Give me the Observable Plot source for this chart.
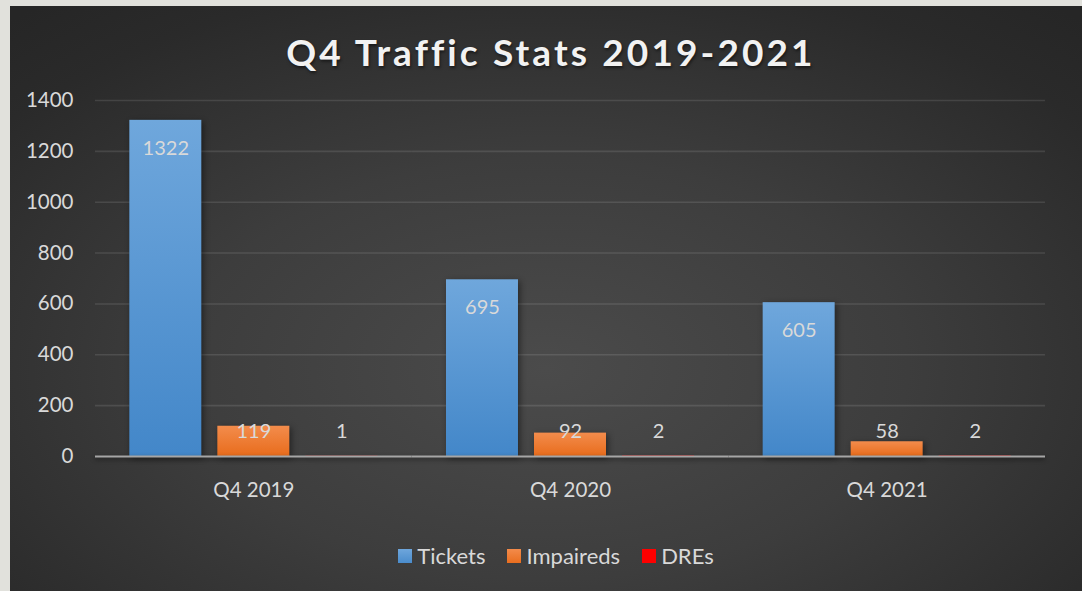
<!DOCTYPE html>
<html>
<head>
<meta charset="utf-8">
<script src="https://cdn.jsdelivr.net/npm/d3@7"></script>
<script src="https://cdn.jsdelivr.net/npm/@observablehq/plot@0.6"></script>
<style>
  html, body { margin: 0; padding: 0; background: #e1e1dc; width: 1082px; height: 591px; overflow: hidden; }
  #panel {
    position: absolute; left: 10px; top: 6px; width: 1072px; height: 585px;
    background: radial-gradient(ellipse 75% 80% at 50% 62%, #4b4b4b 0%, #3d3d3d 45%, #2a2a2a 85%, #262626 100%);
    font-family: Lato, "Open Sans", sans-serif;
  }
  #title {
    position: absolute; left: 10px; top: 23px; width: 1062px; text-align: center;
    color: #f2f2f2; font-weight: bold; font-size: 37px; letter-spacing: 3.1px; line-height: 46px;
    text-shadow: 1px 2px 3px rgba(0,0,0,0.5);
  }
  #chart { position: absolute; left: 0; top: 80px; }
  #legend {
    position: absolute; left: 20px; top: 536px; width: 1052px; display: flex; justify-content: center;
    gap: 22px; color: #d9d9d9; font-size: 22px; line-height: 28px;
  }
  #legend .item { display: flex; align-items: center; }
  #legend .sw { width: 14px; height: 14px; margin-right: 5px; }
</style>
</head>
<body>
<div id="panel">
  <div id="title">Q4 Traffic Stats 2019-2021</div>
  <div id="chart"></div>
  <div id="legend"></div>
</div>
<script>
const categories = ["Q4 2019", "Q4 2020", "Q4 2021"];
const seriesNames = ["Tickets", "Impaireds", "DREs"];
const tickets = [1322, 695, 605];
const impaireds = [119, 92, 58];
const dres = [1, 2, 2];
const yTicks = [0, 200, 400, 600, 800, 1000, 1200, 1400];

const seriesValues = [tickets, impaireds, dres];
const rows = [];
categories.forEach((c, i) => {
  seriesNames.forEach((s, j) => rows.push({category: c, series: s, value: seriesValues[j][i]}));
});

const fills = ["url(#gTickets)", "url(#gImpaireds)", "url(#gDREs)"];
const swatch = ["linear-gradient(#6ea6dc,#4a8ccc)", "linear-gradient(#f38b4b,#e96e1f)", "#ff0000"];

const plot = Plot.plot({
  width: 1072,
  height: 436,
  marginLeft: 85,
  marginRight: 37,
  marginTop: 14,
  marginBottom: 66,
  style: {background: "transparent", fontFamily: "Lato, 'Open Sans', sans-serif", fontSize: "20px", color: "#d9d9d9"},
  fx: {domain: categories, paddingInner: 0, paddingOuter: 0, label: null, round: false},
  x: {domain: seriesNames, axis: null, paddingInner: 0.182, paddingOuter: 0.39, round: false},
  y: {domain: [0, 1400], ticks: yTicks, label: null},
  color: {domain: seriesNames, range: fills},
  marks: [
    Plot.gridY(yTicks.filter(t => t > 0), {stroke: "#ffffff", strokeOpacity: 0.11, strokeWidth: 1.6}),
    Plot.axisY(yTicks, {tickSize: 0, tickPadding: 22, fontSize: 20.5, fill: "#d9d9d9", label: null, tickFormat: d => String(d)}),
    Plot.barY(rows, {fx: "category", x: "series", y: "value", fill: "series", inset: 0}),
    Plot.ruleY([0], {stroke: "#a6a6a6", strokeWidth: 2}),
    Plot.axisFx({anchor: "bottom", tickSize: 0, tickPadding: 26, fontSize: 20.5, fill: "#d9d9d9", label: null}),
    Plot.text(rows, {fx: "category", x: "series", y: d => Math.max(d.value - 110, 98), text: d => String(d.value),
      fill: "#d9d9d9", fontSize: 20, lineAnchor: "middle"})
  ]
});

const svg = d3.select(plot);
const defs = svg.insert("defs", ":first-child");
const grads = [["gTickets", "#6fa7dc", "#4387c9"], ["gImpaireds", "#f38c4c", "#e86c1c"], ["gDREs", "#ff0000", "#ff0000"]];
grads.forEach(([id, a, b]) => {
  const g = defs.append("linearGradient").attr("id", id).attr("x1", 0).attr("y1", 0).attr("x2", 0).attr("y2", 1);
  g.append("stop").attr("offset", "0%").attr("stop-color", a);
  g.append("stop").attr("offset", "100%").attr("stop-color", b);
});
svg.selectAll("g[aria-label='bar'] rect").style("filter", "drop-shadow(2px 2px 3px rgba(0,0,0,0.45))");
svg.selectAll("g[aria-label='rule']").style("filter", "drop-shadow(0px 2px 2px rgba(0,0,0,0.5))");

document.getElementById("chart").appendChild(plot);

const legend = d3.select("#legend");
seriesNames.forEach((s, i) => {
  const it = legend.append("div").attr("class", "item");
  it.append("div").attr("class", "sw").style("background", swatch[i]);
  it.append("span").text(s);
});
</script>
</body>
</html>
